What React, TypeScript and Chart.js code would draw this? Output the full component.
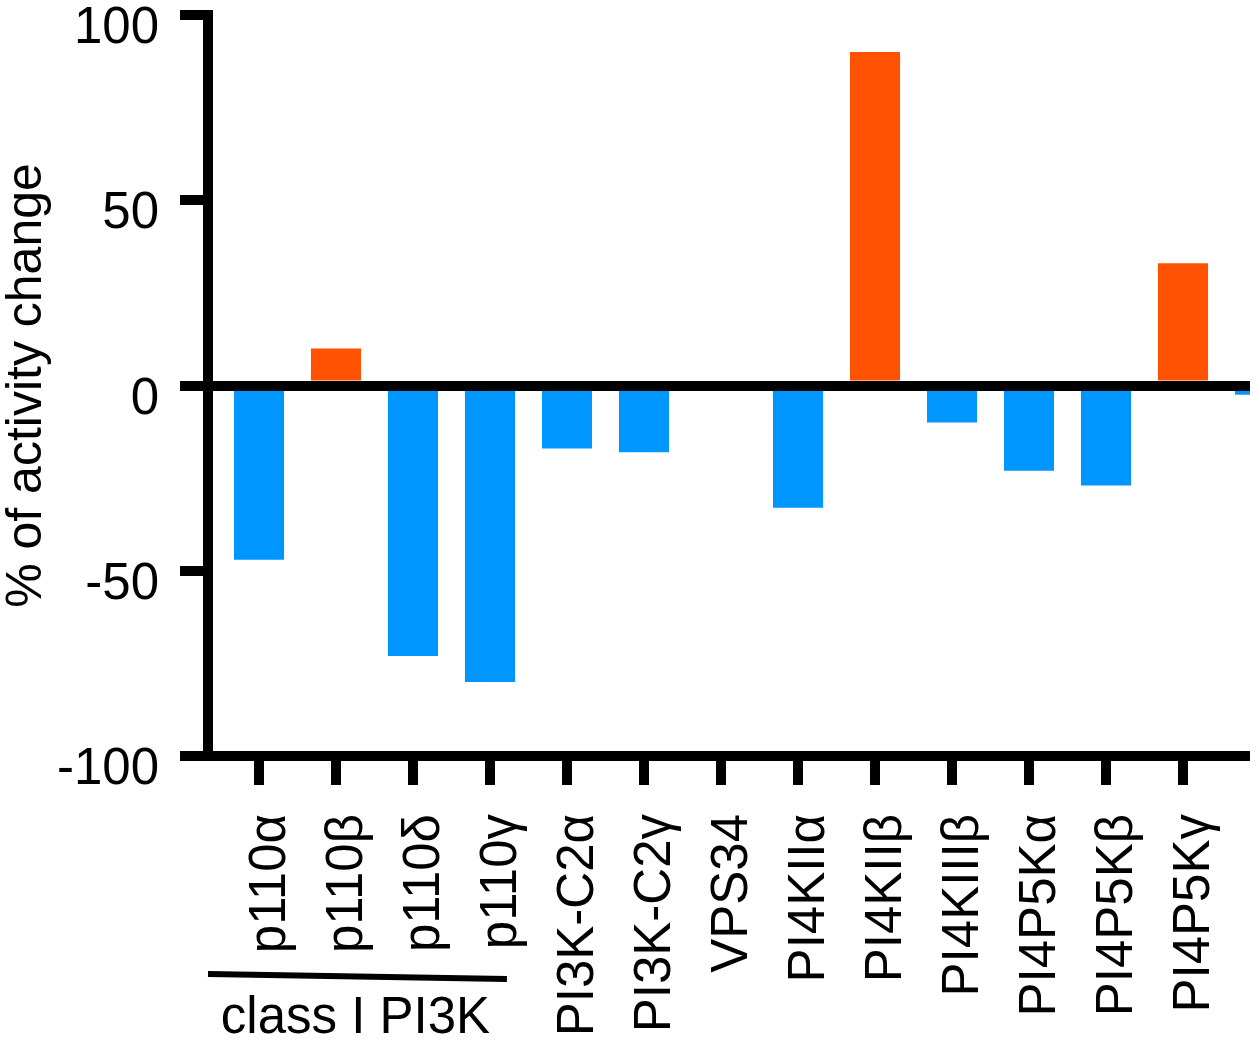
import React, { useEffect, useRef } from "react";
import { Chart, registerables } from "chart.js";

Chart.register(...registerables);

const categories = [
  "p110α",
  "p110β",
  "p110δ",
  "p110γ",
  "PI3K-C2α",
  "PI3K-C2γ",
  "VPS34",
  "PI4KIIα",
  "PI4KIIβ",
  "PI4KIIIβ",
  "PI4P5Kα",
  "PI4P5Kβ",
  "PI4P5Kγ",
  "",
];
const activityChange = [-47, 10, -73, -80, -17, -18, 0, -33, 90, -10, -23, -27, 33, -2.5];
const yTickValues = [-100, -50, 0, 50, 100];
const yAxisTitle = "% of activity change";
const groupLabel = "class I PI3K";
const groupMembers = ["p110α", "p110β", "p110δ", "p110γ"];

const POSITIVE = "#FF5200";
const NEGATIVE = "#0096FF";
const FONT = '"Liberation Sans", Arial, Helvetica, sans-serif';

export default function App() {
  const ref = useRef<HTMLCanvasElement | null>(null);

  useEffect(() => {
    if (!ref.current) return;

    const groupPlugin = {
      id: "groupLabel",
      afterDraw(chart: any) {
        const { ctx, chartArea } = chart;
        const xs = chart.scales.x;
        const lastIdx = categories.indexOf(groupMembers[groupMembers.length - 1]);
        const x1 = chartArea.left;
        const x2 = xs.getPixelForValue(lastIdx + 0.22);
        ctx.save();
        ctx.strokeStyle = "#000";
        ctx.lineWidth = 6;
        ctx.beginPath();
        ctx.moveTo(x1, 974);
        ctx.lineTo(x2, 979);
        ctx.stroke();
        ctx.fillStyle = "#000";
        ctx.font = `51px ${FONT}`;
        ctx.textAlign = "center";
        ctx.textBaseline = "alphabetic";
        ctx.fillText(groupLabel, (x1 + x2) / 2 - 2, 1033);
        ctx.restore();
      },
    };

    const chart = new Chart(ref.current, {
      type: "bar",
      data: {
        datasets: [
          {
            data: activityChange.map((v, i) => ({ x: i, y: v })),
            backgroundColor: activityChange.map((v) => (v >= 0 ? POSITIVE : NEGATIVE)),
            borderWidth: 0,
            barPercentage: 0.65,
            categoryPercentage: 1,
          },
        ],
      },
      options: {
        responsive: false,
        animation: false,
        devicePixelRatio: 1,
        layout: { padding: { top: 15, right: 10, left: 0, bottom: 0 } },
        plugins: {
          legend: { display: false },
          tooltip: { enabled: false },
        },
        scales: {
          x: {
            type: "linear",
            offset: false,
            min: -0.662,
            max: 12.87,
            afterBuildTicks: (s: any) => {
              s.ticks = categories
                .map((_, i) => ({ value: i }))
                .filter((t) => t.value <= s.max);
            },
            afterFit: (s: any) => {
              s.height = 292;
              s.paddingLeft = 0;
              s.paddingRight = 0;
            },
            grid: {
              offset: false,
              drawOnChartArea: false,
              drawTicks: true,
              lineWidth: 0,
              color: "#000",
              tickLength: 29,
              tickWidth: 10,
              tickColor: "#000",
            },
            border: { display: true, color: "#000", width: 10 },
            ticks: {
              autoSkip: false,
              includeBounds: false,
              maxRotation: 90,
              minRotation: 90,
              padding: 29,
              labelOffset: 12,
              color: "#000",
              font: { family: FONT, size: 51 },
              callback: (v: any) => categories[Math.round(Number(v))] ?? "",
            },
          },
          y: {
            type: "linear",
            min: -100,
            max: 100,
            afterBuildTicks: (s: any) => {
              s.ticks = yTickValues.map((v) => ({ value: v }));
            },
            afterFit: (s: any) => {
              s.width = 208;
              s.paddingTop = 0;
              s.paddingBottom = 0;
            },
            grid: {
              z: 1,
              drawOnChartArea: true,
              drawTicks: true,
              lineWidth: (c: any) => (c.tick && c.tick.value === 0 ? 10 : 0),
              color: "#000",
              tickLength: 28,
              tickWidth: 10,
              tickColor: "#000",
            },
            border: { display: true, color: "#000", width: 10, z: 1 },
            ticks: {
              padding: 21,
              labelOffset: 14,
              color: "#000",
              font: { family: FONT, size: 51 },
              callback: (v: any) => String(v),
            },
            title: {
              display: true,
              text: yAxisTitle,
              color: "#000",
              padding: 0,
              font: { family: FONT, size: 50, lineHeight: 1.1 },
            },
          },
        },
      },
      plugins: [groupPlugin],
    });

    return () => chart.destroy();
  }, []);

  return (
    <div style={{ position: "absolute", left: 0, top: 0, width: 1260, height: 1048, background: "#fff" }}>
      <canvas ref={ref} width={1260} height={1048} style={{ display: "block" }} />
    </div>
  );
}
